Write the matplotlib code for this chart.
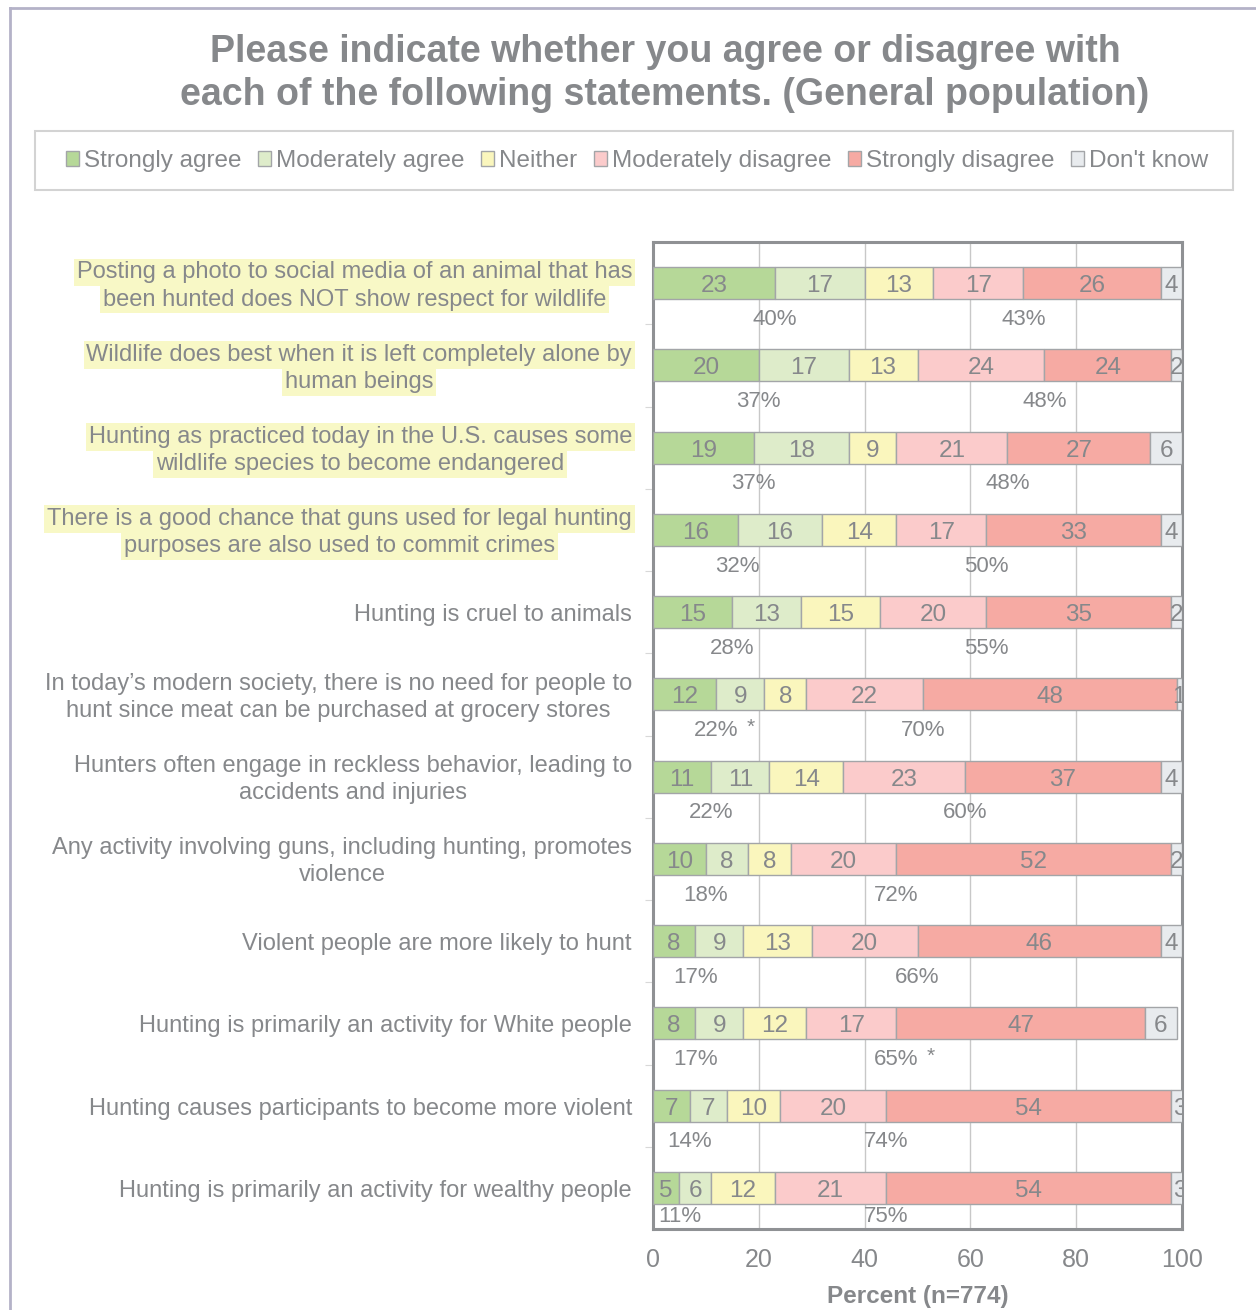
import matplotlib
matplotlib.use("Agg")
import matplotlib.pyplot as plt
from matplotlib.patches import Rectangle
from matplotlib.lines import Line2D
from matplotlib.transforms import blended_transform_factory

plt.rcParams['font.family'] = ['Liberation Sans', 'DejaVu Sans']

statements = [
    "Posting a photo to social media of an animal that has\nbeen hunted does NOT show respect for wildlife",
    "Wildlife does best when it is left completely alone by\nhuman beings",
    "Hunting as practiced today in the U.S. causes some\nwildlife species to become endangered",
    "There is a good chance that guns used for legal hunting\npurposes are also used to commit crimes",
    "Hunting is cruel to animals",
    "In today\u2019s modern society, there is no need for people to\nhunt since meat can be purchased at grocery stores",
    "Hunters often engage in reckless behavior, leading to\naccidents and injuries",
    "Any activity involving guns, including hunting, promotes\nviolence",
    "Violent people are more likely to hunt",
    "Hunting is primarily an activity for White people",
    "Hunting causes participants to become more violent",
    "Hunting is primarily an activity for wealthy people",
]
highlighted = [True, True, True, True, False, False, False, False, False, False, False, False]

categories = ["Strongly agree", "Moderately agree", "Neither",
              "Moderately disagree", "Strongly disagree", "Don't know"]

strongly_agree = [23, 20, 19, 16, 15, 12, 11, 10, 8, 8, 7, 5]
moderately_agree = [17, 17, 18, 16, 13, 9, 11, 8, 9, 9, 7, 6]
neither = [13, 13, 9, 14, 15, 8, 14, 8, 13, 12, 10, 12]
moderately_disagree = [17, 24, 21, 17, 20, 22, 23, 20, 20, 17, 20, 21]
strongly_disagree = [26, 24, 27, 33, 35, 48, 37, 52, 46, 47, 54, 54]
dont_know = [4, 2, 6, 4, 2, 1, 4, 2, 4, 6, 3, 3]

agree_total = ["40%", "37%", "37%", "32%", "28%", "22%", "22%", "18%", "17%", "17%", "14%", "11%"]
disagree_total = ["43%", "48%", "48%", "50%", "55%", "70%", "60%", "72%", "66%", "65%", "74%", "75%"]
agree_flag = ["", "", "", "", "", "*", "", "", "", "", "", ""]
disagree_flag = ["", "", "", "", "", "", "", "", "", "*", "", ""]

series = [strongly_agree, moderately_agree, neither,
          moderately_disagree, strongly_disagree, dont_know]
colors = ["#b6d898", "#deecca", "#faf6bd", "#fbcbcb", "#f6aaa3", "#e8ebee"]

txt = "#86888b"
edge = "#a3a5a8"

fig = plt.figure(figsize=(12.56, 13.10), dpi=100)
W, H = 1256, 1310

# outer frame (left and top edges visible)
fig.add_artist(Line2D([10 / W, 10 / W], [0, 1 - 8 / H], transform=fig.transFigure,
                      color="#b4b2c8", lw=2))
fig.add_artist(Line2D([10 / W, 1], [1 - 8 / H, 1 - 8 / H], transform=fig.transFigure,
                      color="#b4b2c8", lw=2))

ax = fig.add_axes([653 / W, 1 - 1229 / H, (1182 - 653) / W, (1229 - 242) / H])

n = len(statements)
ys = list(range(n))
bar_h = 0.39
lefts = [0] * n
for vals, col, name in zip(series, colors, categories):
    ax.barh(ys, vals, left=lefts, height=bar_h, color=col, edgecolor=edge,
            linewidth=1.0, label=name, zorder=3)
    for i, v in enumerate(vals):
        ax.text(lefts[i] + v / 2, i + 0.035, str(v), ha="center", va="center",
                fontsize=17.5, color=txt, zorder=4, clip_on=True)
    lefts = [l + v for l, v in zip(lefts, vals)]

# net agree / disagree labels under each bar (kept inside the plot frame)
for i in range(n):
    xa = strongly_agree[i]
    xd = strongly_agree[i] + moderately_agree[i] + neither[i] + moderately_disagree[i]
    yl = min(i + 0.44, n - 0.5 - 0.15)
    for x, lab, flag in ((xa, agree_total[i], agree_flag[i]),
                         (xd, disagree_total[i], disagree_flag[i])):
        ax.text(x, yl, lab, ha="center", va="center", fontsize=16,
                color=txt, zorder=4)
        if flag:
            ax.annotate(flag, xy=(x, yl), xytext=(22, 2), textcoords="offset points",
                        ha="left", va="center", fontsize=15, color=txt, zorder=4)

ax.set_xlim(0, 100)
ax.set_ylim(n - 0.5, -0.5)
ax.set_xticks([0, 20, 40, 60, 80, 100])
ax.set_xticklabels(["0", "20", "40", "60", "80", "100"], fontsize=18, color=txt)
ax.tick_params(axis="x", length=0, pad=14)
ax.set_yticks([i + 0.5 for i in range(n - 1)])
ax.set_yticklabels([])
ax.tick_params(axis="y", length=6, color="#d8d8d8", direction="out")
ax.grid(axis="x", color="#c8c8c8", linewidth=1.0, zorder=0)
for s in ax.spines.values():
    s.set_color("#8f9194")
    s.set_linewidth(2.2)
ax.set_xlabel("Percent (n=774)", fontsize=17.5, fontweight="bold", color=txt, labelpad=9)

# statement labels: each block is right-aligned, its lines centred on one another,
# and each line drawn separately so highlighting follows the line
renderer = fig.canvas.get_renderer()
lab_fs = 17
right_px = 632
line_step = 0.33
trans = blended_transform_factory(fig.transFigure, ax.transData)
for i, (label, hl) in enumerate(zip(statements, highlighted)):
    lines = label.split("\n")
    widths = []
    for line in lines:
        probe = fig.text(0, 0, line, fontsize=lab_fs)
        widths.append(probe.get_window_extent(renderer).width)
        probe.remove()
    cx = (right_px - max(widths) / 2) / W
    k = len(lines)
    for j, line in enumerate(lines):
        off = (j - (k - 1) / 2) * line_step + 0.035
        kw = {}
        if hl:
            kw["bbox"] = dict(boxstyle="square,pad=0.12", facecolor="#f8f8c6",
                              edgecolor="none")
        fig.text(cx, i + off, line, ha="center", va="center", fontsize=lab_fs,
                 color=txt, transform=trans, **kw)

fig.text(665 / W, 1 - 52 / H, "Please indicate whether you agree or disagree with",
         ha="center", va="center", fontsize=27, fontweight="bold", color=txt)
fig.text(665 / W, 1 - 95 / H, "each of the following statements. (General population)",
         ha="center", va="center", fontsize=27, fontweight="bold", color=txt)

# legend box
fig.add_artist(Rectangle((35 / W, 1 - 190 / H), (1233 - 35) / W, 59 / H,
                         transform=fig.transFigure, facecolor="white",
                         edgecolor="#d3d3d3", linewidth=1.5, zorder=0))
handles, labels = ax.get_legend_handles_labels()
leg = fig.legend(handles, labels, loc="center", ncol=6,
                 bbox_to_anchor=(44 / W, 1 - 186 / H, (1230 - 44) / W, 50 / H),
                 mode="expand", frameon=False, fontsize=17.5, handlelength=0.55,
                 handleheight=0.55, handletextpad=0.2, columnspacing=0.8,
                 labelcolor=txt)

fig.savefig("out.png", dpi=100, facecolor="white")
